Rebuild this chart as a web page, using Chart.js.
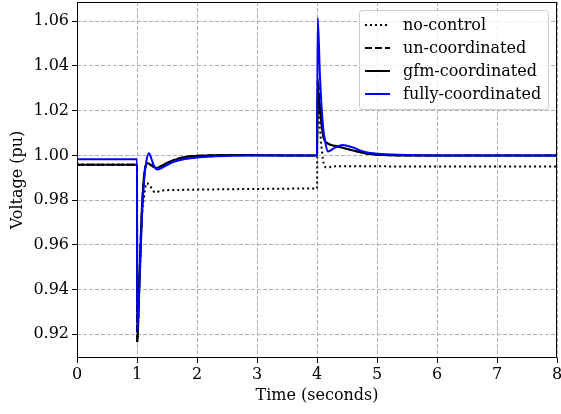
<!DOCTYPE html>
<html>
<head>
<meta charset="utf-8">
<script src="https://cdn.jsdelivr.net/npm/chart.js@4/dist/chart.umd.min.js"></script>
<style>
html,body{margin:0;padding:0;background:#fff}
#wrap{width:561px;height:414px}
</style>
</head>
<body>
<div id="wrap"><canvas id="chart" width="561" height="414"></canvas></div>
<script>
// time (s) / voltage (pu)
const noCtrlT=[0,1.0,1.003,1.05,1.08,1.12,1.16,1.24,1.3,1.41,1.6,2.0,3.0,3.99,4.0,4.012,4.05,4.1,4.16,4.3,5.0,6.0,8.0];
const noCtrlV=[0.9958,0.9958,0.917,0.9485,0.971,0.982,0.9876,0.9855,0.9834,0.9843,0.9845,0.9847,0.985,0.9852,0.9852,1.027,1.012,0.998,0.9946,0.9951,0.9951,0.995,0.995];

const unCoordT=[0,1.0,1.003,1.04,1.08,1.12,1.18,1.24,1.33,1.4,1.5,1.6,1.8,2.0,2.3,2.6,3.0,3.5,4.0,4.012,4.05,4.1,4.16,4.3,4.43,4.6,4.8,5.0,5.5,8.0];
const unCoordV=[0.9958,0.9958,0.9165,0.945,0.975,0.9915,0.9965,0.9955,0.9944,0.9952,0.9966,0.9978,0.9993,0.9998,1.0001,1.0002,1.0001,1.0,1.0,1.034,1.022,1.01,1.0058,1.0044,1.0034,1.0022,1.0009,1.0003,1.0,1.0];

const gfmT=[0,1.0,1.003,1.04,1.08,1.12,1.18,1.24,1.33,1.4,1.5,1.6,1.8,2.0,2.3,2.6,3.0,3.5,4.0,4.012,4.05,4.1,4.16,4.3,4.43,4.6,4.8,5.0,5.5,8.0];
const gfmV=[0.9958,0.9958,0.9165,0.945,0.975,0.9915,0.9965,0.9955,0.9944,0.9952,0.9966,0.9978,0.9993,0.9998,1.0001,1.0002,1.0001,1.0,1.0,1.031,1.02,1.009,1.0056,1.0043,1.0034,1.0022,1.0009,1.0003,1.0,1.0];

const fullyT=[0,1.0,1.003,1.04,1.08,1.12,1.16,1.2,1.24,1.28,1.34,1.4,1.5,1.6,1.8,2.0,2.3,2.6,3.0,4.0,4.012,4.05,4.1,4.14,4.18,4.3,4.43,4.6,4.8,5.0,5.5,6.0,8.0];
const fullyV=[0.9983,0.9983,0.9215,0.9413,0.9712,0.989,0.998,1.001,0.9985,0.9955,0.9937,0.9942,0.9957,0.997,0.9984,0.9991,0.9996,0.9999,1.0,1.0,1.0615,1.035,1.013,1.0056,1.0017,1.0035,1.0047,1.0035,1.0015,1.0007,1.0002,1.0,1.0];

const labels=["no-control","un-coordinated","gfm-coordinated","fully-coordinated"];
const xTicks=[0,1,2,3,4,5,6,7,8];
const yTicks=[0.92,0.94,0.96,0.98,1.00,1.02,1.04,1.06];

const FONT="'DejaVu Serif', serif";
const pts=(t,v)=>t.map((x,i)=>({x:x,y:v[i]}));

const frame={
id:"frame",
afterDraw(c){
const a=c.chartArea,g=c.ctx;
g.save();
g.strokeStyle="#000";g.lineWidth=1;
g.strokeRect(Math.round(a.left)+0.5,Math.round(a.top)+0.5,Math.round(a.width)-1,Math.round(a.height)-1);
// legend box, upper right
const bx=a.right-198,by=a.top+8,bw=189,bh=99,rowH=23;
g.fillStyle="rgba(255,255,255,0.8)";
g.strokeStyle="#cccccc";
g.beginPath();
g.roundRect(bx+0.5,by+0.5,bw,bh,3);
g.fill();g.stroke();
g.font="16px "+FONT;
g.textBaseline="middle";
c.data.datasets.forEach((d,i)=>{
const y=by+15+i*rowH;
g.strokeStyle=d.borderColor;
g.lineWidth=d.borderWidth;
g.setLineDash(d.borderDash||[]);
g.beginPath();g.moveTo(bx+6,y);g.lineTo(bx+31,y);g.stroke();
g.setLineDash([]);
g.fillStyle="#000";
g.fillText(d.label,bx+44,y+1);
});
g.restore();
}
};

new Chart(document.getElementById("chart"),{
type:"line",
data:{datasets:[
{label:labels[0],data:pts(noCtrlT,noCtrlV),borderColor:"#000",borderWidth:2,borderDash:[2,3],order:4},
{label:labels[1],data:pts(unCoordT,unCoordV),borderColor:"#000",borderWidth:2,borderDash:[7,3],order:3},
{label:labels[2],data:pts(gfmT,gfmV),borderColor:"#000",borderWidth:2,order:2},
{label:labels[3],data:pts(fullyT,fullyV),borderColor:"#0000ff",borderWidth:2,order:1}
]},
options:{
responsive:false,animation:false,
elements:{point:{radius:0},line:{fill:false,cubicInterpolationMode:"monotone"}},
layout:{padding:{left:0,right:4,top:2,bottom:0}},
plugins:{legend:{display:false},tooltip:{enabled:false}},
scales:{
x:{type:"linear",min:0,max:8,
afterBuildTicks(s){s.ticks=xTicks.map(v=>({value:v}))},
afterFit(s){s.height=56;s.paddingLeft=0;s.paddingRight=0},
ticks:{color:"#000",font:{family:FONT,size:16},padding:2,maxRotation:0,callback:v=>String(v)},
grid:{color:"#b0b0b0",lineWidth:1,tickLength:5,tickColor:"#000",tickWidth:1},
border:{display:false,dash:[4,2]},
title:{display:true,text:"Time (seconds)",color:"#000",font:{family:FONT,size:16},padding:{top:0,bottom:9}}
},
y:{type:"linear",min:0.9094,max:1.0686,
afterBuildTicks(s){s.ticks=yTicks.map(v=>({value:v}))},
afterFit(s){s.width=77;s.paddingTop=0;s.paddingBottom=0},
ticks:{color:"#000",font:{family:FONT,size:16},padding:3,callback:v=>v.toFixed(2)},
grid:{color:"#b0b0b0",lineWidth:1,tickLength:5,tickColor:"#000",tickWidth:1},
border:{display:false,dash:[4,2]},
title:{display:true,text:"Voltage (pu)",color:"#000",font:{family:FONT,size:16},padding:{top:8,bottom:0}}
}
}
},
plugins:[frame]
});
</script>
</body>
</html>
